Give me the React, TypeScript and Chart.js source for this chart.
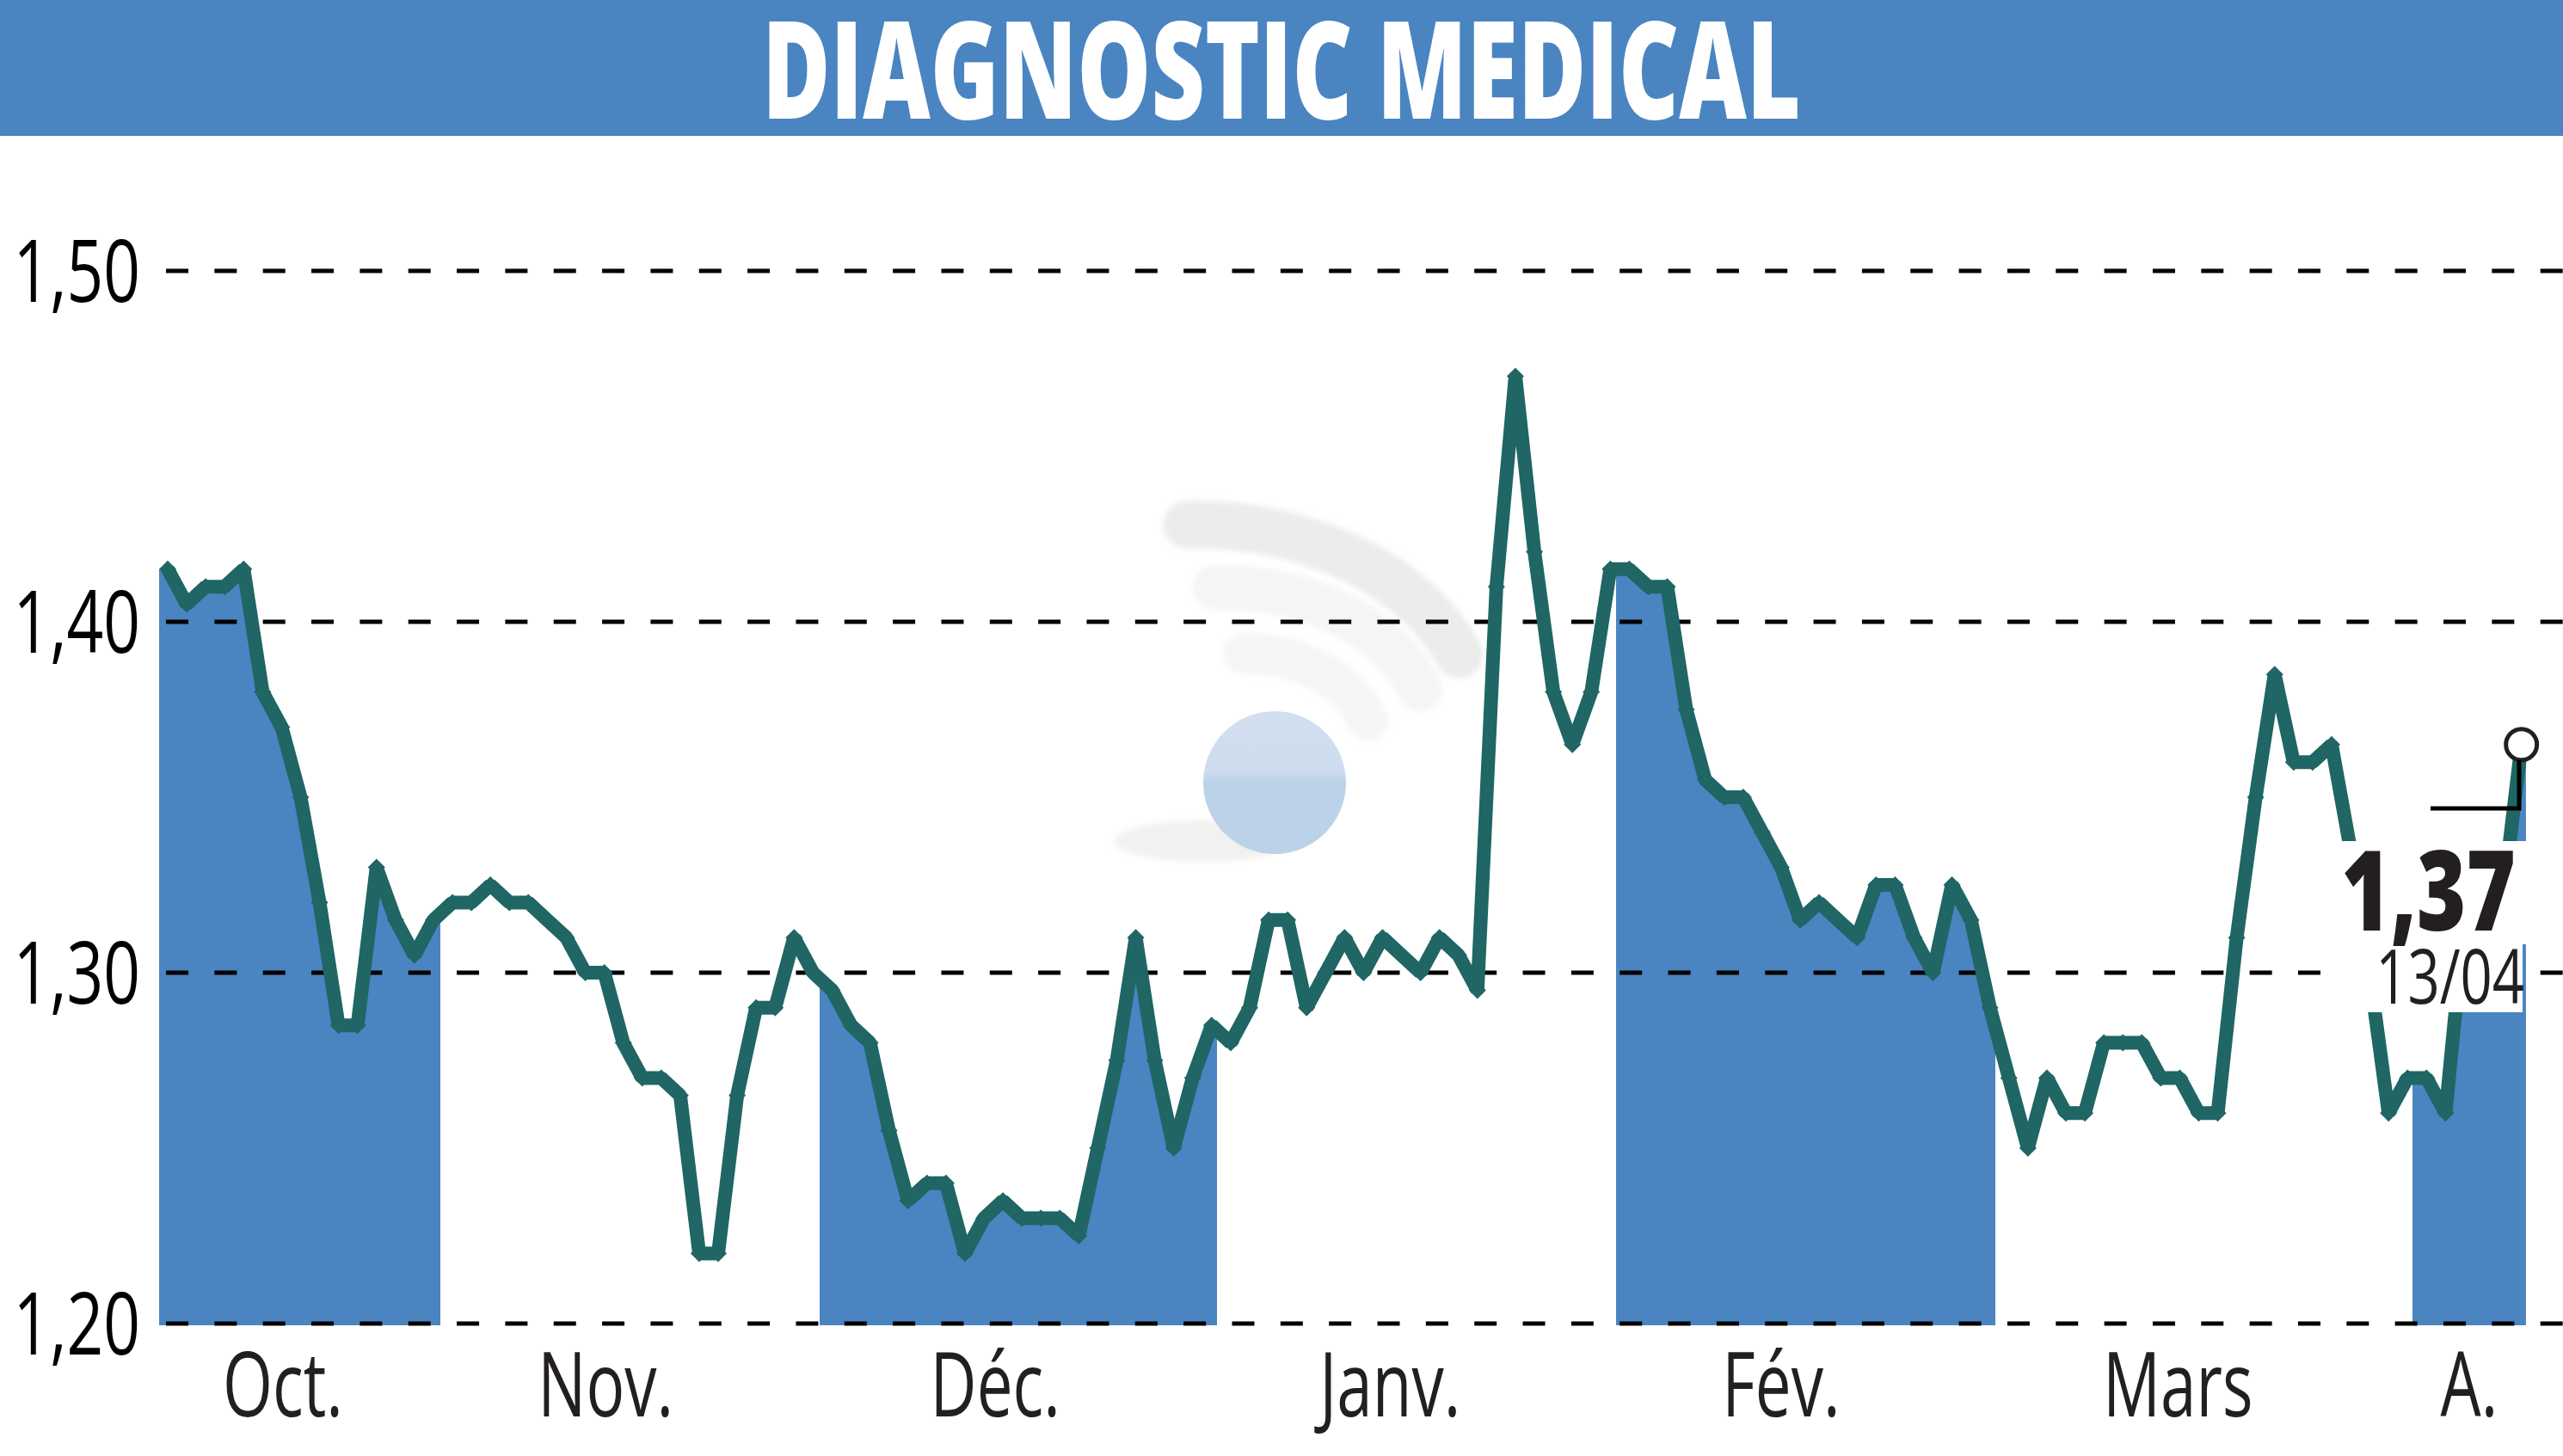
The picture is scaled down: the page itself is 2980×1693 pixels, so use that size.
import React, { useEffect, useRef } from 'react';
import Chart from 'chart.js/auto';

const TITLE = 'DIAGNOSTIC MEDICAL';
const LAST_PRICE_LABEL = '1,37';
const LAST_DATE_LABEL = '13/04';

// daily closes, one per trading session
const closes = [
    1.415, 1.405, 1.41, 1.41, 1.415, 1.38, 1.37, 1.35, 1.32, 1.285,
    1.285, 1.33, 1.315, 1.305, 1.315, 1.32, 1.32, 1.325, 1.32, 1.32,
    1.315, 1.31, 1.30, 1.30, 1.28, 1.27, 1.27, 1.265, 1.22, 1.22,
    1.265, 1.29, 1.29, 1.31, 1.30, 1.295, 1.285, 1.28, 1.255, 1.235,
    1.24, 1.24, 1.22, 1.23, 1.235, 1.23, 1.23, 1.23, 1.225, 1.25,
    1.275, 1.31, 1.275, 1.25, 1.27, 1.285, 1.28, 1.29, 1.315, 1.315,
    1.29, 1.30, 1.31, 1.30, 1.31, 1.305, 1.30, 1.31, 1.305, 1.295,
    1.41, 1.47, 1.42, 1.38, 1.365, 1.38, 1.415, 1.415, 1.41, 1.41,
    1.375, 1.355, 1.35, 1.35, 1.34, 1.33, 1.315, 1.32, 1.315, 1.31,
    1.325, 1.325, 1.31, 1.30, 1.325, 1.315, 1.29, 1.27, 1.25, 1.27,
    1.26, 1.26, 1.28, 1.28, 1.28, 1.27, 1.27, 1.26, 1.26, 1.31,
    1.35, 1.385, 1.36, 1.36, 1.365, 1.335, 1.30, 1.26, 1.27, 1.27,
    1.26, 1.315, 1.32, 1.32, 1.365,
];

const priceTicks = [1.2, 1.3, 1.4, 1.5];
const monthLabels = ['Oct.', 'Nov.', 'Déc.', 'Janv.', 'Fév.', 'Mars', 'A.'];
const monthCentres = [6.07, 23.07, 43.6, 64.4, 85, 105.9, 121.25];
// shaded months, in session numbers
const shadedMonths = [
    [-0.45, 14.36],
    [34.35, 55.28],
    [76.3, 96.28],
    [118.26, 124.24],
];

const BLUE = '#4a84c1';
const TEAL = '#1f6665';
const FONT = '"Open Sans", "Noto Sans", sans-serif';

const X_MIN = -0.453;
const X_MAX = 126.19;
const GRID_START = -0.09;
const FILL_BASE = 1.1995;

const points = closes.map((y, x) => ({ x, y }));

// no condensed font is installed, so text gets squeezed horizontally
const squeezedText = (
    ctx: CanvasRenderingContext2D,
    text: string,
    font: string,
    squeeze: number,
    x: number,
    y: number,
    align: 'left' | 'center' | 'right'
) => {
    ctx.save();
    ctx.font = font;
    ctx.textAlign = align;
    ctx.textBaseline = 'alphabetic';
    ctx.translate(x, y);
    ctx.scale(squeeze, 1);
    ctx.fillText(text, 0, 0);
    ctx.restore();
};

const monthFill = (ctx: any) => {
    const chart = ctx.chart;
    const area = chart.chartArea;
    const xScale = chart.scales.x;
    if (!area || !xScale) return BLUE;
    const g = chart.ctx.createLinearGradient(area.left, 0, area.right, 0);
    const width = area.right - area.left;
    const clear = 'rgba(74,132,193,0)';
    shadedMonths.forEach(([from, to]) => {
        const a = Math.min(1, Math.max(0, (xScale.getPixelForValue(from) - area.left) / width));
        const b = Math.min(1, Math.max(0, (xScale.getPixelForValue(to) - area.left) / width));
        g.addColorStop(a, clear);
        g.addColorStop(a, BLUE);
        g.addColorStop(b, BLUE);
        g.addColorStop(b, clear);
    });
    return g;
};

const pagePlugin = {
    id: 'page',
    beforeDraw(chart: Chart) {
        const ctx = chart.ctx;
        ctx.save();
        ctx.fillStyle = '#ffffff';
        ctx.fillRect(0, 0, chart.width, chart.height);
        ctx.fillStyle = BLUE;
        ctx.fillRect(0, 0, chart.width, 158);
        ctx.fillStyle = '#ffffff';
        squeezedText(ctx, TITLE, '800 158px ' + FONT, 0.685, 1490, 138, 'center');

        // watermark
        ctx.filter = 'blur(3px)';
        ctx.lineCap = 'round';
        ctx.lineWidth = 56;
        ctx.strokeStyle = '#ebedeb';
        ctx.beginPath();
        ctx.ellipse(1390, 850, 330, 240, 0, -1.6, -0.38);
        ctx.stroke();
        ctx.lineWidth = 52;
        ctx.strokeStyle = '#f3f6f3';
        ctx.beginPath();
        ctx.ellipse(1420, 860, 245, 177, 0, -1.6, -0.34);
        ctx.stroke();
        ctx.lineWidth = 48;
        ctx.strokeStyle = '#f4f7f6';
        ctx.beginPath();
        ctx.ellipse(1450, 880, 150, 120, 0, -1.6, -0.36);
        ctx.stroke();
        ctx.fillStyle = '#f1f1ef';
        ctx.beginPath();
        ctx.ellipse(1400, 978, 105, 24, 0, 0, Math.PI * 2);
        ctx.fill();
        ctx.filter = 'none';
        const ball = ctx.createLinearGradient(0, 827, 0, 993);
        ball.addColorStop(0, '#d2dfef');
        ball.addColorStop(0.42, '#cddcee');
        ball.addColorStop(0.5, '#bcd2e8');
        ball.addColorStop(1, '#bcd2e8');
        ctx.fillStyle = ball;
        ctx.beginPath();
        ctx.arc(1482, 910, 83, 0, Math.PI * 2);
        ctx.fill();
        ctx.restore();
    },
    afterDatasetsDraw(chart: Chart) {
        const ctx = chart.ctx;
        ctx.save();
        // white plate behind the last price
        ctx.fillStyle = '#ffffff';
        ctx.fillRect(2700, 978, 245, 120);
        ctx.fillRect(2700, 1098, 233, 79);
        ctx.strokeStyle = '#000000';
        ctx.lineWidth = 5;
        ctx.beginPath();
        ctx.moveTo(2826, 940);
        ctx.lineTo(2929, 940);
        ctx.lineTo(2929, 884);
        ctx.stroke();
        ctx.fillStyle = '#231f20';
        squeezedText(ctx, LAST_PRICE_LABEL, '800 129px ' + FONT, 0.76, 2925, 1082, 'right');
        squeezedText(ctx, LAST_DATE_LABEL, '88px ' + FONT, 0.74, 2935, 1167, 'right');

        // axis labels
        const xScale = chart.scales.x;
        const yScale = chart.scales.y;
        xScale.ticks.forEach((t: any) => {
            squeezedText(ctx, t.label, '105px ' + FONT, 0.71, xScale.getPixelForValue(t.value), 1647, 'center');
        });
        ctx.fillStyle = '#000000';
        yScale.ticks.forEach((t: any) => {
            squeezedText(ctx, t.label, '101px ' + FONT, 0.74, 163, yScale.getPixelForValue(t.value) + 36, 'right');
        });
        ctx.restore();
    },
};

const App: React.FC = () => {
    const chartRef = useRef<HTMLCanvasElement>(null);

    useEffect(() => {
        document.body.style.margin = '0';
        const ctx = chartRef.current?.getContext('2d');
        if (!ctx) return;

        const gridDatasets = priceTicks.map(t => ({
            type: 'line' as const,
            data: [{ x: GRID_START, y: t }, { x: X_MAX, y: t }],
            borderColor: '#000000',
            borderWidth: 5,
            borderDash: [26, 30.34],
            pointRadius: 0,
            fill: false,
            clip: false,
            order: 3,
        }));

        const chart = new Chart(ctx, {
            type: 'line',
            data: {
                datasets: [
                    {
                        // last session marker
                        data: [points[points.length - 1]],
                        pointRadius: 18,
                        pointBorderWidth: 5,
                        pointBorderColor: '#231f20',
                        pointBackgroundColor: '#ffffff',
                        showLine: false,
                        clip: false,
                        order: 1,
                    },
                    {
                        data: points,
                        borderColor: TEAL,
                        borderWidth: 16,
                        borderJoinStyle: 'bevel',
                        pointStyle: 'rectRot',
                        pointRadius: 10,
                        pointBorderWidth: 0,
                        pointBackgroundColor: TEAL,
                        fill: false,
                        tension: 0,
                        clip: false,
                        order: 2,
                    },
                    ...gridDatasets,
                    {
                        // month shading, runs slightly past both ends of the line
                        data: [
                            { x: X_MIN, y: closes[0] },
                            ...points,
                            { x: 124.24, y: closes[closes.length - 1] },
                        ],
                        borderWidth: 0,
                        pointRadius: 0,
                        backgroundColor: monthFill,
                        fill: { target: { value: FILL_BASE } },
                        tension: 0,
                        order: 4,
                    },
                ] as any,
            },
            options: {
                animation: false,
                responsive: false,
                devicePixelRatio: 1,
                layout: { autoPadding: false, padding: { top: 315, left: 0, right: 0, bottom: 0 } },
                plugins: {
                    legend: { display: false },
                    tooltip: { enabled: false },
                    title: { display: false },
                },
                scales: {
                    x: {
                        type: 'linear',
                        min: X_MIN,
                        max: X_MAX,
                        grid: { display: false },
                        border: { display: false },
                        afterBuildTicks: (axis: any) => {
                            axis.ticks = monthCentres.map(value => ({ value }));
                        },
                        afterFit: (axis: any) => {
                            axis.height = 133.6;
                        },
                        ticks: {
                            display: false,
                            autoSkip: false,
                            callback: (_v: any, i: number) => monthLabels[i],
                        },
                    },
                    y: {
                        type: 'linear',
                        min: 1.195,
                        max: 1.5,
                        grid: { display: false },
                        border: { display: false },
                        afterBuildTicks: (axis: any) => {
                            axis.ticks = priceTicks.map(value => ({ value }));
                        },
                        afterFit: (axis: any) => {
                            axis.width = 185;
                        },
                        ticks: {
                            display: false,
                            callback: (v: any) => Number(v).toFixed(2).replace('.', ','),
                        },
                    },
                },
            },
            plugins: [pagePlugin],
        });

        return () => chart.destroy();
    }, []);

    return <canvas ref={chartRef} width={2980} height={1693} style={{ display: 'block' }} />;
};

export default App;
